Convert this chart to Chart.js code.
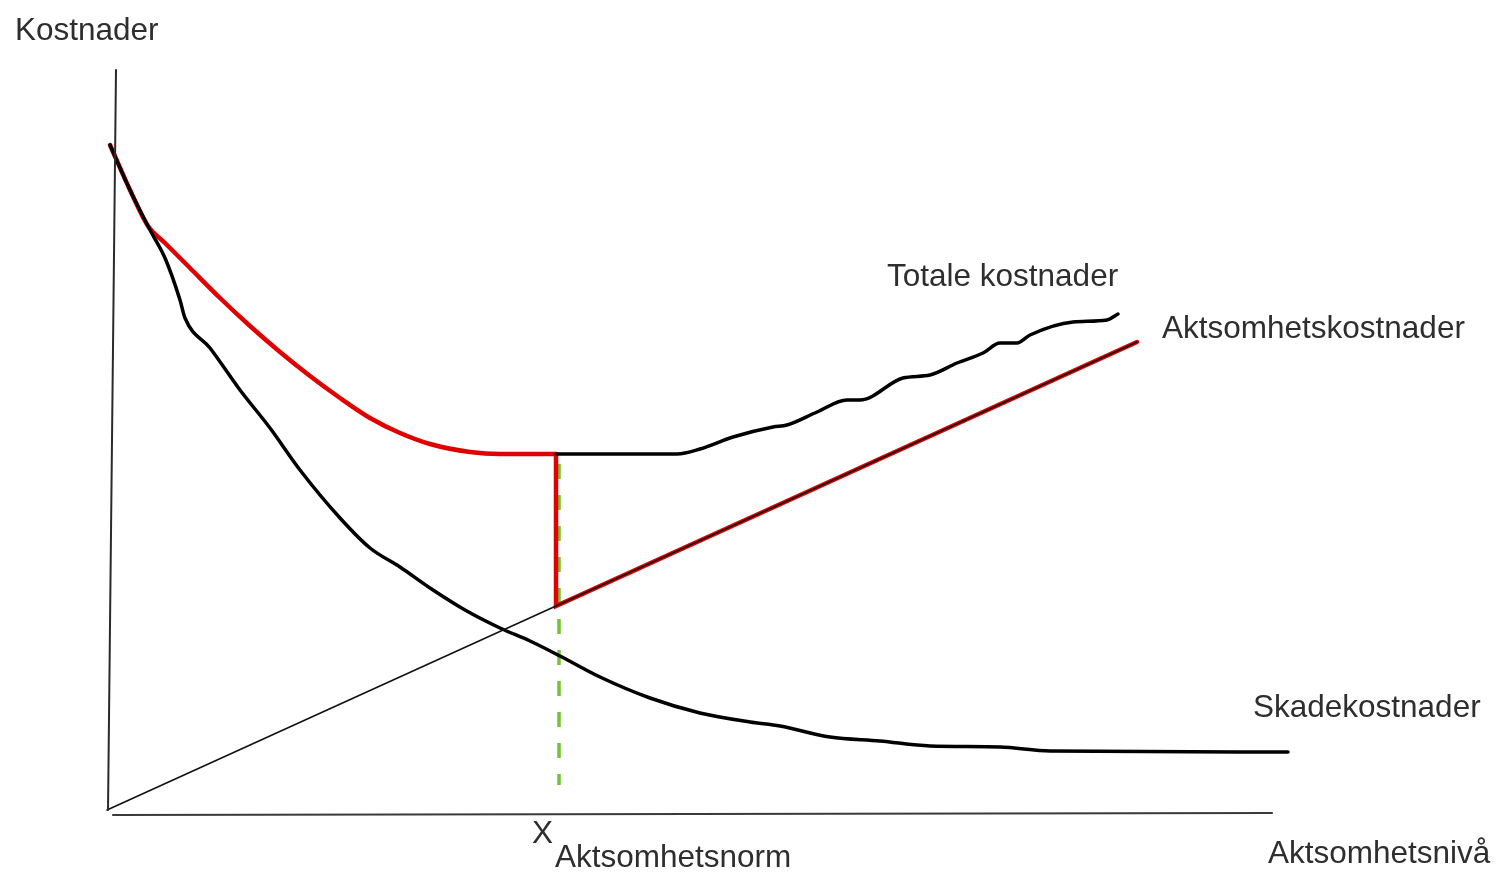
<!DOCTYPE html>
<html>
<head>
<meta charset="utf-8">
<title>Aktsomhetsnorm</title>
<script src="https://cdn.jsdelivr.net/npm/chart.js@4.4.1/dist/chart.umd.min.js"></script>
<style>
  html, body { margin: 0; padding: 0; background: #fff; overflow: hidden; }
  #wrap { width: 1496px; height: 873px; position: relative; }
</style>
</head>
<body>
<div id="wrap"><canvas id="chart"></canvas></div>
<script>
// x = aktsomhetsnivå, y = kostnader (arbitrary units, origin at the axes' corner)

const skadeX = [0.3, 2.3, 4.3, 5.8, 7.3, 7.8, 10.3, 13.3, 16.3, 19.3, 23.3, 26.3, 29.3, 32.3, 35.8, 39.3, 42.3, 45.3, 49.3, 54.3, 59.3, 64.3, 67.3, 72.3, 77.3, 82.3, 89.3, 94.3, 118.1];
const skadeY = [66.5, 62.0, 58.0, 55.2, 51.0, 49.2, 46.2, 42.0, 38.2, 34.0, 29.2, 26.2, 24.3, 22.2, 20.0, 18.2, 16.9, 15.4, 13.3, 11.2, 9.7, 8.8, 8.4, 7.3, 6.9, 6.4, 6.3, 5.9, 5.8];

// total costs, left part (drawn red on top) and right part
const totalLeftX = [0.3, 2.3, 4.1, 5.8, 8.3, 11.3, 14.3, 17.3, 20.3, 23.3, 26.3, 29.3, 32.3, 36.3, 39.3, 44.9];
const totalLeftY = [66.5, 62.0, 58.4, 56.7, 54.2, 51.2, 48.4, 45.8, 43.4, 41.2, 39.2, 37.7, 36.6, 35.8, 35.6, 35.6];
const totalRightX = [44.9, 57.0, 59.3, 62.6, 66.6, 68.0, 71.0, 74.0, 75.3, 79.6, 82.3, 85.0, 87.6, 89.3, 91.0, 92.3, 96.6, 100.0, 101.1];
const totalRightY = [35.6, 35.6, 36.1, 37.3, 38.3, 38.5, 39.8, 41.0, 41.0, 43.2, 43.5, 44.7, 45.7, 46.7, 46.7, 47.5, 48.8, 49.0, 49.6];

// aktsomhetskostnader (straight line)
const aktsomX = [0, 103];
const aktsomY = [0, 46.8];

// aktsomhetsnorm X
const normX = 44.9;
const normTop = 35.6;
const normLine = 20.4;
const dashX = 45.2;
const dashTop = 34.6;
const dashBottom = 2.5;

// axes
const yAxisX = [0.1, 0.9];
const yAxisY = [0, 74.0];
const xAxisX = [0.6, 116.5];
const xAxisY = [-0.5, -0.3];

const labels = [
  { text: "Kostnader", x: -9.2, y: 77.0 },
  { text: "Totale kostnader", x: 78.0, y: 52.4 },
  { text: "Aktsomhetskostnader", x: 105.5, y: 47.2 },
  { text: "Skadekostnader", x: 114.6, y: 9.3 },
  { text: "Aktsomhetsnivå", x: 116.1, y: -5.3 },
  { text: "X", x: 42.5, y: -3.3 },
  { text: "Aktsomhetsnorm", x: 44.8, y: -5.7 }
];

function pts(xs, ys) {
  return xs.map((x, i) => ({ x: x, y: ys[i] }));
}

function line(data, color, width, extra) {
  return Object.assign({
    data: data,
    borderColor: color,
    borderWidth: width,
    pointRadius: 0,
    fill: false,
    tension: 0,
    borderCapStyle: "round",
    borderJoinStyle: "round"
  }, extra || {});
}

const smooth = { cubicInterpolationMode: "monotone" };

const textPlugin = {
  id: "texts",
  afterDatasetsDraw(chart) {
    const ctx = chart.ctx;
    const sx = chart.scales.x, sy = chart.scales.y;
    ctx.save();
    ctx.font = "31.5px 'Liberation Sans', Arial, sans-serif";
    ctx.fillStyle = "#2e2e2e";
    ctx.textAlign = "left";
    ctx.textBaseline = "alphabetic";
    labels.forEach(l => {
      ctx.fillText(l.text, sx.getPixelForValue(l.x), sy.getPixelForValue(l.y));
    });
    ctx.restore();
  }
};

new Chart(document.getElementById("chart"), {
  type: "line",
  data: {
    datasets: [
      line(pts(yAxisX, yAxisY), "#2a2a2a", 2),
      line(pts(xAxisX, xAxisY), "#3a3a3a", 2.2),
      line(pts(aktsomX, aktsomY), "#111", 1.6),
      line(pts(skadeX, skadeY), "#000", 3.5, smooth),
      line(pts(totalRightX, totalRightY), "#000", 3.5, smooth),
      line(pts(totalLeftX, totalLeftY), "#e00000", 4.5, smooth),
      line(pts([normX, normX, aktsomX[1]], [normTop, normLine, aktsomY[1]]), "#e00000", 4.5, { borderJoinStyle: "miter" }),
      line(pts([dashX, dashX], [dashTop, dashBottom]), "#74c431", 3.5, { borderDash: [15, 16], borderCapStyle: "butt" })
    ]
  },
  options: {
    responsive: true,
    maintainAspectRatio: false,
    animation: false,
    layout: { padding: 0 },
    plugins: {
      legend: { display: false },
      tooltip: { enabled: false }
    },
    scales: {
      x: { type: "linear", min: -10.7, max: 138.9, display: false },
      y: { type: "linear", min: -6.3, max: 81.0, display: false }
    }
  },
  plugins: [textPlugin]
});
</script>
</body>
</html>
